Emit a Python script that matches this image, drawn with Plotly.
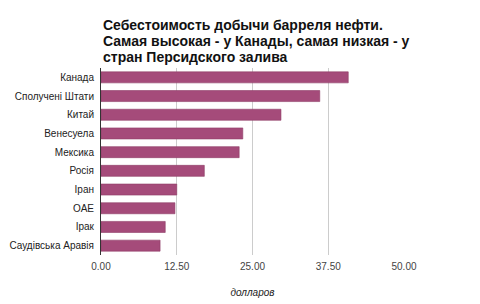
import plotly.graph_objects as go

countries = ["Канада", "Сполучені Штати", "Китай", "Венесуела", "Мексика",
             "Росія", "Іран", "ОАЕ", "Ірак", "Саудівська Аравія"]
costs = [40.8, 36.1, 29.7, 23.4, 22.8, 17.05, 12.5, 12.2, 10.6, 9.75]
x_ticks = [0, 12.5, 25, 37.5, 50]
title_lines = ["Себестоимость добычи барреля нефти.",
               "Самая высокая - у Канады, самая низкая - у",
               "стран Персидского залива"]

W, H = 480, 304
M = dict(l=101, r=76, t=68, b=49)
plot_h = H - M["t"] - M["b"]

fig = go.Figure(go.Bar(
    y=countries, x=costs, orientation="h",
    marker=dict(color="#a54b7a", line=dict(color="#8e3d66", width=0.6)),
))

annotations = []
for i, line in enumerate(title_lines):
    top_px = 15 + 16 * i
    annotations.append(dict(
        text=line, x=0, xref="paper", xanchor="left", align="left",
        y=1 + (M["t"] - top_px) / plot_h, yref="paper", yanchor="top",
        showarrow=False,
        font=dict(family="Liberation Sans, Arial", size=14, color="#111", weight="bold"),
    ))

fig.update_layout(
    width=W, height=H,
    margin=M,
    paper_bgcolor="white", plot_bgcolor="white",
    bargap=0.41,
    showlegend=False,
    font=dict(family="Liberation Sans, Arial", size=10, color="#444"),
    annotations=annotations,
    xaxis=dict(
        range=[0, 50], tickvals=x_ticks, tickformat=".2f",
        showgrid=True, gridcolor="#cccccc", gridwidth=1,
        zeroline=False, showline=False, ticks="", automargin=False,
        ticklabelstandoff=4,
        tickfont=dict(size=10, color="#444"),
        title=dict(text="<i>долларов</i>", font=dict(size=10, color="#222"), standoff=17),
    ),
    yaxis=dict(
        autorange="reversed", showgrid=False, zeroline=False,
        showline=True, linecolor="#333", linewidth=1, automargin=False,
        ticks="", ticklabelstandoff=4,
        tickfont=dict(size=10, color="#222"),
    ),
)

fig.write_html("out.html")
